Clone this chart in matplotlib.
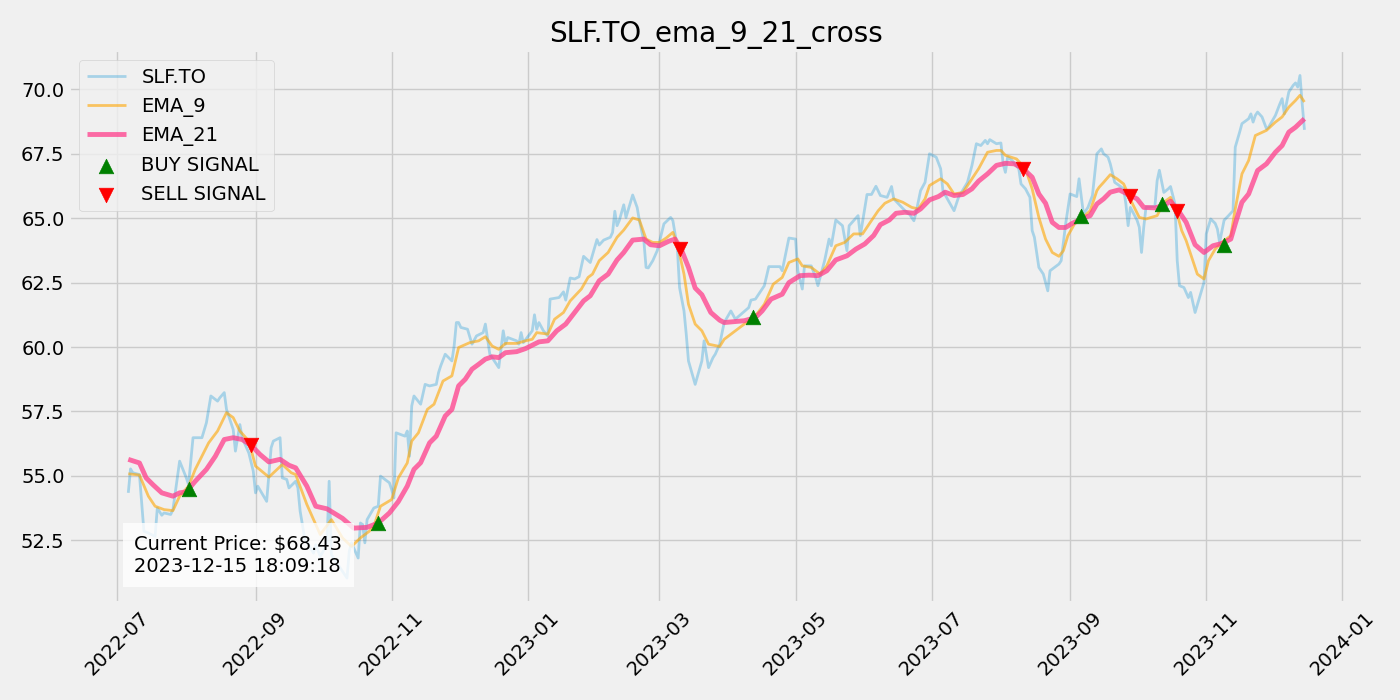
import pandas as pd
import matplotlib
matplotlib.use("Agg")
import matplotlib.pyplot as plt
import matplotlib.dates as mdates

TICKER = "SLF.TO"
CURRENT_PRICE = 68.43
TIMESTAMP = "2023-12-15 18:09:18"

# closing prices
price_dates = [
    "2022-07-06", "2022-07-07", "2022-07-08", "2022-07-11", "2022-07-13", "2022-07-15", "2022-07-18",
    "2022-07-19", "2022-07-21", "2022-07-22", "2022-07-25", "2022-07-26", "2022-07-29", "2022-08-01",
    "2022-08-02", "2022-08-04", "2022-08-08", "2022-08-10", "2022-08-12", "2022-08-15", "2022-08-16",
    "2022-08-18", "2022-08-19", "2022-08-22", "2022-08-23", "2022-08-25", "2022-08-26", "2022-08-29",
    "2022-08-31", "2022-09-01", "2022-09-02", "2022-09-06", "2022-09-08", "2022-09-09", "2022-09-12",
    "2022-09-13", "2022-09-15", "2022-09-16", "2022-09-19", "2022-09-20", "2022-09-21", "2022-09-23",
    "2022-09-27", "2022-09-28", "2022-09-30", "2022-10-03", "2022-10-04", "2022-10-05", "2022-10-12",
    "2022-10-13", "2022-10-14", "2022-10-17", "2022-10-18", "2022-10-19", "2022-10-20", "2022-10-21",
    "2022-10-24", "2022-10-26", "2022-10-27", "2022-10-31", "2022-11-01", "2022-11-02", "2022-11-03",
    "2022-11-07", "2022-11-08", "2022-11-09", "2022-11-10", "2022-11-11", "2022-11-14", "2022-11-16",
    "2022-11-18", "2022-11-21", "2022-11-22", "2022-11-23", "2022-11-25", "2022-11-28", "2022-11-29",
    "2022-11-30", "2022-12-01", "2022-12-02", "2022-12-05", "2022-12-07", "2022-12-09", "2022-12-12",
    "2022-12-13", "2022-12-15", "2022-12-16", "2022-12-19", "2022-12-21", "2022-12-22", "2022-12-23",
    "2022-12-27", "2022-12-28", "2022-12-29", "2022-12-30", "2023-01-01", "2023-01-03", "2023-01-04",
    "2023-01-05", "2023-01-06", "2023-01-08", "2023-01-10", "2023-01-11", "2023-01-15", "2023-01-17",
    "2023-01-18", "2023-01-20", "2023-01-22", "2023-01-24", "2023-01-26", "2023-01-29", "2023-02-01",
    "2023-02-02", "2023-02-04", "2023-02-07", "2023-02-08", "2023-02-09", "2023-02-10", "2023-02-11",
    "2023-02-13", "2023-02-14", "2023-02-17", "2023-02-19", "2023-02-20", "2023-02-22", "2023-02-23",
    "2023-02-24", "2023-02-26", "2023-02-28", "2023-03-03", "2023-03-06", "2023-03-07", "2023-03-09",
    "2023-03-10", "2023-03-12", "2023-03-13", "2023-03-14", "2023-03-17", "2023-03-20", "2023-03-21",
    "2023-03-23", "2023-03-25", "2023-03-26", "2023-03-28", "2023-03-30", "2023-04-02", "2023-04-04",
    "2023-04-10", "2023-04-11", "2023-04-13", "2023-04-15", "2023-04-17", "2023-04-19", "2023-04-22",
    "2023-04-24", "2023-04-25", "2023-04-28", "2023-05-01", "2023-05-02", "2023-05-04", "2023-05-05",
    "2023-05-08", "2023-05-10", "2023-05-11", "2023-05-14", "2023-05-16", "2023-05-17", "2023-05-19",
    "2023-05-22", "2023-05-24", "2023-05-25", "2023-05-29", "2023-05-30", "2023-06-02", "2023-06-04",
    "2023-06-06", "2023-06-08", "2023-06-11", "2023-06-13", "2023-06-14", "2023-06-19", "2023-06-21",
    "2023-06-23", "2023-06-24", "2023-06-26", "2023-06-28", "2023-06-30", "2023-07-03", "2023-07-05",
    "2023-07-06", "2023-07-08", "2023-07-11", "2023-07-13", "2023-07-17", "2023-07-19", "2023-07-21",
    "2023-07-23", "2023-07-25", "2023-07-26", "2023-07-27", "2023-07-30", "2023-08-01", "2023-08-02",
    "2023-08-03", "2023-08-04", "2023-08-06", "2023-08-09", "2023-08-10", "2023-08-12", "2023-08-14",
    "2023-08-15", "2023-08-16", "2023-08-18", "2023-08-20", "2023-08-22", "2023-08-23", "2023-08-27",
    "2023-08-28", "2023-08-30", "2023-09-01", "2023-09-04", "2023-09-05", "2023-09-07", "2023-09-09",
    "2023-09-11", "2023-09-13", "2023-09-15", "2023-09-16", "2023-09-18", "2023-09-19", "2023-09-21",
    "2023-09-23", "2023-09-25", "2023-09-26", "2023-09-27", "2023-09-28", "2023-10-01", "2023-10-02",
    "2023-10-03", "2023-10-04", "2023-10-05", "2023-10-09", "2023-10-10", "2023-10-11", "2023-10-13",
    "2023-10-15", "2023-10-16", "2023-10-18", "2023-10-19", "2023-10-20", "2023-10-22", "2023-10-24",
    "2023-10-25", "2023-10-27", "2023-10-29", "2023-10-31", "2023-11-01", "2023-11-03", "2023-11-05",
    "2023-11-06", "2023-11-07", "2023-11-09", "2023-11-11", "2023-11-13", "2023-11-14", "2023-11-16",
    "2023-11-17", "2023-11-20", "2023-11-21", "2023-11-22", "2023-11-23", "2023-11-24", "2023-11-26",
    "2023-11-28", "2023-11-29", "2023-12-02", "2023-12-04", "2023-12-05", "2023-12-06", "2023-12-08",
    "2023-12-10", "2023-12-11", "2023-12-12", "2023-12-13", "2023-12-14", "2023-12-15",
]
price_values = [
    54.34, 55.27, 55.12, 55.05, 52.85, 52.78, 52.65,
    53.75, 53.47, 53.56, 53.50, 53.69, 55.57, 54.92,
    54.66, 56.48, 56.48, 57.06, 58.10, 57.90, 58.03,
    58.23, 57.58, 56.80, 55.96, 56.99, 56.48, 55.89,
    55.18, 54.34, 54.60, 54.01, 56.09, 56.35, 56.48,
    54.92, 54.86, 54.53, 54.79, 54.53, 53.63, 52.59,
    52.00, 52.33, 51.87, 52.33, 54.79, 51.94, 51.03,
    52.07, 52.40, 51.81, 53.17, 53.11, 52.40, 53.30,
    53.75, 53.82, 54.99, 54.73, 54.47, 54.14, 56.67,
    56.54, 56.74, 55.76, 57.71, 58.10, 57.78, 58.55,
    58.49, 58.55, 59.00, 59.27, 59.72, 59.46, 60.04,
    60.95, 60.95, 60.76, 60.69, 60.11, 60.43, 60.56,
    60.89, 59.72, 59.59, 59.20, 60.63, 60.11, 60.37,
    60.24, 60.11, 60.56, 60.17, 60.40, 60.63, 61.25,
    60.69, 60.95, 60.63, 60.43, 61.86, 61.92, 62.14,
    61.82, 62.68, 62.64, 62.73, 63.52, 63.28, 64.17,
    63.96, 64.15, 64.26, 64.45, 65.27, 64.71, 64.91,
    65.52, 65.03, 65.90, 65.42, 64.91, 64.13, 63.09,
    63.07, 63.35, 63.74, 64.78, 65.03, 64.91, 63.87,
    62.31, 61.40, 60.50, 59.46, 58.55, 59.46, 60.24,
    59.20, 59.59, 59.72, 60.11, 60.95, 61.40, 61.08,
    61.53, 61.82, 61.86, 62.12, 62.38, 63.12, 63.12,
    63.12, 62.96, 64.23, 64.19, 62.96, 62.25, 63.15,
    63.15, 62.70, 62.38, 63.35, 64.19, 63.93, 64.93,
    64.71, 63.74, 64.71, 65.10, 64.32, 65.92, 65.92,
    66.24, 65.88, 65.81, 66.23, 65.75, 65.29, 65.16,
    64.90, 65.23, 66.07, 66.39, 67.50, 67.37, 66.92,
    66.07, 65.75, 65.29, 65.81, 66.39, 67.04, 67.89,
    67.82, 68.02, 67.89, 68.05, 67.89, 67.92, 67.11,
    66.78, 67.37, 67.24, 66.92, 66.33, 66.14, 65.81,
    64.52, 64.26, 63.09, 62.83, 62.18, 62.96, 63.22,
    63.35, 64.78, 65.94, 65.84, 66.53, 65.16, 65.42,
    65.88, 67.50, 67.69, 67.50, 67.37, 67.11, 66.39,
    66.27, 66.14, 65.55, 64.71, 65.42, 64.92, 64.65,
    63.67, 64.65, 65.42, 65.46, 66.46, 66.86, 66.00,
    66.14, 66.23, 65.55, 63.35, 62.38, 62.31, 61.92,
    62.12, 61.34, 61.92, 62.51, 64.39, 64.97, 64.80,
    64.58, 64.06, 64.92, 65.10, 65.29, 67.76, 68.35,
    68.67, 68.86, 69.05, 68.73, 68.99, 69.12, 68.93,
    68.47, 68.54, 68.99, 69.44, 69.64, 69.05, 69.90,
    70.16, 70.25, 70.09, 70.54, 69.44, 68.43,
]

# 9-day EMA as drawn
ema9_dates = [
    "2022-07-06", "2022-07-11", "2022-07-15", "2022-07-18", "2022-07-22", "2022-07-26", "2022-07-29",
    "2022-08-02", "2022-08-05", "2022-08-11", "2022-08-15", "2022-08-19", "2022-08-22", "2022-08-25",
    "2022-08-29", "2022-09-01", "2022-09-07", "2022-09-13", "2022-09-17", "2022-09-19", "2022-09-24",
    "2022-09-27", "2022-09-30", "2022-10-05", "2022-10-10", "2022-10-14", "2022-10-18", "2022-10-22",
    "2022-10-24", "2022-10-27", "2022-11-01", "2022-11-04", "2022-11-08", "2022-11-10", "2022-11-13",
    "2022-11-17", "2022-11-20", "2022-11-24", "2022-11-28", "2022-12-01", "2022-12-06", "2022-12-10",
    "2022-12-13", "2022-12-16", "2022-12-19", "2022-12-22", "2022-12-27", "2022-12-31", "2023-01-03",
    "2023-01-05", "2023-01-10", "2023-01-13", "2023-01-17", "2023-01-20", "2023-01-25", "2023-01-28",
    "2023-01-30", "2023-02-02", "2023-02-06", "2023-02-10", "2023-02-13", "2023-02-17", "2023-02-20",
    "2023-02-23", "2023-02-26", "2023-03-01", "2023-03-04", "2023-03-07", "2023-03-09", "2023-03-12",
    "2023-03-14", "2023-03-17", "2023-03-20", "2023-03-23", "2023-03-28", "2023-03-30", "2023-04-04",
    "2023-04-08", "2023-04-13", "2023-04-17", "2023-04-21", "2023-04-25", "2023-04-28", "2023-05-02",
    "2023-05-04", "2023-05-08", "2023-05-12", "2023-05-15", "2023-05-19", "2023-05-23", "2023-05-27",
    "2023-05-31", "2023-06-03", "2023-06-07", "2023-06-10", "2023-06-14", "2023-06-18", "2023-06-22",
    "2023-06-25", "2023-06-28", "2023-06-30", "2023-07-05", "2023-07-08", "2023-07-11", "2023-07-15",
    "2023-07-19", "2023-07-22", "2023-07-26", "2023-07-30", "2023-08-01", "2023-08-03", "2023-08-08",
    "2023-08-12", "2023-08-15", "2023-08-18", "2023-08-21", "2023-08-24", "2023-08-27", "2023-08-29",
    "2023-08-31", "2023-09-03", "2023-09-06", "2023-09-10", "2023-09-13", "2023-09-14", "2023-09-16",
    "2023-09-19", "2023-09-22", "2023-09-25", "2023-09-29", "2023-10-02", "2023-10-05", "2023-10-10",
    "2023-10-13", "2023-10-16", "2023-10-19", "2023-10-21", "2023-10-23", "2023-10-26", "2023-10-28",
    "2023-10-31", "2023-11-02", "2023-11-05", "2023-11-08", "2023-11-12", "2023-11-14", "2023-11-17",
    "2023-11-20", "2023-11-23", "2023-11-28", "2023-12-02", "2023-12-05", "2023-12-08", "2023-12-11",
    "2023-12-13", "2023-12-15",
]
ema9_values = [
    55.08, 55.03, 54.21, 53.82, 53.69, 53.65, 54.21,
    54.60, 55.25, 56.28, 56.74, 57.45, 57.26, 56.74,
    56.35, 55.38, 54.95, 55.44, 55.12, 55.05, 53.89,
    53.30, 52.72, 53.30, 52.59, 52.26, 52.59, 52.85,
    53.04, 53.82, 54.08, 54.92, 55.50, 56.35, 56.67,
    57.58, 57.78, 58.68, 58.88, 59.98, 60.17, 60.24,
    60.40, 60.04, 59.91, 60.14, 60.14, 60.24, 60.30,
    60.56, 60.50, 61.08, 61.34, 61.79, 62.25, 62.70,
    62.83, 63.35, 63.67, 64.26, 64.54, 65.01, 64.93,
    64.19, 64.06, 64.06, 64.23, 64.45, 64.00, 62.83,
    61.66, 60.89, 60.63, 60.11, 60.02, 60.30, 60.63,
    60.89, 61.21, 61.66, 62.44, 62.70, 63.28, 63.42,
    63.15, 63.09, 62.83, 63.15, 63.93, 64.06, 64.39,
    64.39, 64.78, 65.29, 65.58, 65.75, 65.62, 65.42,
    65.36, 65.75, 66.27, 66.53, 66.33, 65.94, 66.00,
    66.53, 66.92, 67.56, 67.63, 67.63, 67.44, 67.30,
    66.92, 66.14, 65.03, 64.19, 63.67, 63.52, 63.74,
    64.32, 64.78, 64.97, 65.29, 66.07, 66.20, 66.39,
    66.69, 66.53, 66.33, 65.55, 65.03, 64.97, 65.10,
    65.62, 65.81, 65.16, 64.52, 64.13, 63.35, 62.83,
    62.64, 63.35, 63.80, 64.06, 64.32, 65.36, 66.72,
    67.24, 68.21, 68.41, 68.73, 68.93, 69.31, 69.57,
    69.77, 69.51,
]

# 21-day EMA as drawn
ema21_dates = [
    "2022-07-06", "2022-07-11", "2022-07-14", "2022-07-17", "2022-07-21", "2022-07-26", "2022-07-29",
    "2022-08-01", "2022-08-05", "2022-08-10", "2022-08-14", "2022-08-18", "2022-08-22", "2022-08-26",
    "2022-08-30", "2022-09-03", "2022-09-07", "2022-09-12", "2022-09-16", "2022-09-19", "2022-09-24",
    "2022-09-28", "2022-10-03", "2022-10-10", "2022-10-15", "2022-10-21", "2022-10-26", "2022-10-31",
    "2022-11-04", "2022-11-08", "2022-11-11", "2022-11-14", "2022-11-18", "2022-11-21", "2022-11-25",
    "2022-11-28", "2022-12-01", "2022-12-04", "2022-12-07", "2022-12-10", "2022-12-13", "2022-12-16",
    "2022-12-19", "2022-12-22", "2022-12-27", "2022-12-31", "2023-01-06", "2023-01-10", "2023-01-14",
    "2023-01-18", "2023-01-22", "2023-01-26", "2023-01-29", "2023-02-02", "2023-02-06", "2023-02-10",
    "2023-02-13", "2023-02-17", "2023-02-22", "2023-02-25", "2023-03-01", "2023-03-05", "2023-03-08",
    "2023-03-11", "2023-03-14", "2023-03-17", "2023-03-20", "2023-03-24", "2023-03-28", "2023-03-30",
    "2023-04-04", "2023-04-08", "2023-04-13", "2023-04-16", "2023-04-20", "2023-04-25", "2023-04-28",
    "2023-05-03", "2023-05-07", "2023-05-11", "2023-05-15", "2023-05-19", "2023-05-24", "2023-05-28",
    "2023-06-01", "2023-06-05", "2023-06-08", "2023-06-12", "2023-06-15", "2023-06-19", "2023-06-23",
    "2023-06-26", "2023-06-30", "2023-07-04", "2023-07-07", "2023-07-11", "2023-07-15", "2023-07-19",
    "2023-07-22", "2023-07-26", "2023-07-30", "2023-08-03", "2023-08-07", "2023-08-11", "2023-08-15",
    "2023-08-18", "2023-08-21", "2023-08-24", "2023-08-27", "2023-08-30", "2023-09-02", "2023-09-06",
    "2023-09-10", "2023-09-13", "2023-09-16", "2023-09-19", "2023-09-23", "2023-09-28", "2023-10-01",
    "2023-10-04", "2023-10-09", "2023-10-13", "2023-10-16", "2023-10-20", "2023-10-23", "2023-10-27",
    "2023-10-31", "2023-11-04", "2023-11-08", "2023-11-12", "2023-11-14", "2023-11-17", "2023-11-20",
    "2023-11-24", "2023-11-28", "2023-12-02", "2023-12-05", "2023-12-08", "2023-12-11", "2023-12-15",
]
ema21_values = [
    55.64, 55.50, 54.92, 54.66, 54.34, 54.21, 54.34,
    54.38, 54.79, 55.25, 55.76, 56.41, 56.48, 56.41,
    56.19, 55.83, 55.54, 55.64, 55.41, 55.31, 54.60,
    53.82, 53.72, 53.35, 52.97, 53.00, 53.17, 53.56,
    54.00, 54.60, 55.25, 55.51, 56.28, 56.54, 57.32,
    57.58, 58.49, 58.75, 59.14, 59.33, 59.53, 59.62,
    59.59, 59.78, 59.82, 59.94, 60.20, 60.24, 60.63,
    60.89, 61.34, 61.79, 61.99, 62.57, 62.83, 63.38,
    63.67, 64.15, 64.19, 63.97, 63.93, 64.10, 64.19,
    63.74, 63.09, 62.29, 62.03, 61.34, 61.04, 60.95,
    60.99, 61.02, 61.14, 61.40, 61.86, 62.05, 62.50,
    62.77, 62.79, 62.77, 62.96, 63.38, 63.54, 63.80,
    64.00, 64.33, 64.75, 64.93, 65.19, 65.23, 65.19,
    65.36, 65.71, 65.84, 66.01, 65.88, 65.92, 66.14,
    66.44, 66.72, 67.05, 67.13, 67.11, 66.92, 66.59,
    65.94, 65.58, 64.84, 64.64, 64.64, 64.80, 64.97,
    65.10, 65.55, 65.75, 66.01, 66.10, 65.88, 65.75,
    65.42, 65.40, 65.49, 65.66, 65.23, 64.84, 63.97,
    63.67, 63.93, 64.02, 64.19, 64.78, 65.62, 65.94,
    66.85, 67.11, 67.56, 67.82, 68.34, 68.53, 68.86,
]

buy_dates = ["2022-08-02", "2022-10-26", "2023-04-12", "2023-09-06", "2023-10-12", "2023-11-09"]
buy_values = [54.47, 53.17, 61.17, 65.10, 65.55, 63.97]
sell_dates = ["2022-08-30", "2023-03-10", "2023-08-11", "2023-09-28", "2023-10-19"]
sell_values = [56.19, 63.80, 66.92, 65.88, 65.27]


def main():
    plt.style.use("fivethirtyeight")
    fig, ax = plt.subplots(figsize=(14, 7), dpi=100)

    ax.plot(pd.to_datetime(price_dates), price_values, color="#008fd5", alpha=0.3,
            linewidth=2, label=TICKER)
    ax.plot(pd.to_datetime(ema9_dates), ema9_values, color="orange", alpha=0.6,
            linewidth=2, label="EMA_9")
    ax.plot(pd.to_datetime(ema21_dates), ema21_values, color="#ff3d8b", alpha=0.75,
            linewidth=3.5, label="EMA_21")
    ax.scatter(pd.to_datetime(buy_dates), buy_values, marker="^", color="green",
               s=110, label="BUY SIGNAL", zorder=5)
    ax.scatter(pd.to_datetime(sell_dates), sell_values, marker="v", color="red",
               s=110, label="SELL SIGNAL", zorder=5)

    ax.set_title(f"{TICKER}_ema_9_21_cross", fontsize=20)
    ax.xaxis.set_major_locator(mdates.MonthLocator(bymonth=[1, 3, 5, 7, 9, 11]))
    ax.xaxis.set_major_formatter(mdates.DateFormatter("%Y-%m"))
    plt.xticks(rotation=45)
    ax.legend(loc="upper left", fontsize=14)

    ax.text(0.05, 0.05, f"Current Price: ${CURRENT_PRICE:.2f}\n{TIMESTAMP}",
            transform=ax.transAxes, fontsize=14, va="bottom", ha="left",
            bbox=dict(boxstyle="square,pad=0.6", facecolor="white", alpha=0.8, edgecolor="none"))

    plt.tight_layout()
    plt.savefig("out.png")


if __name__ == "__main__":
    main()
